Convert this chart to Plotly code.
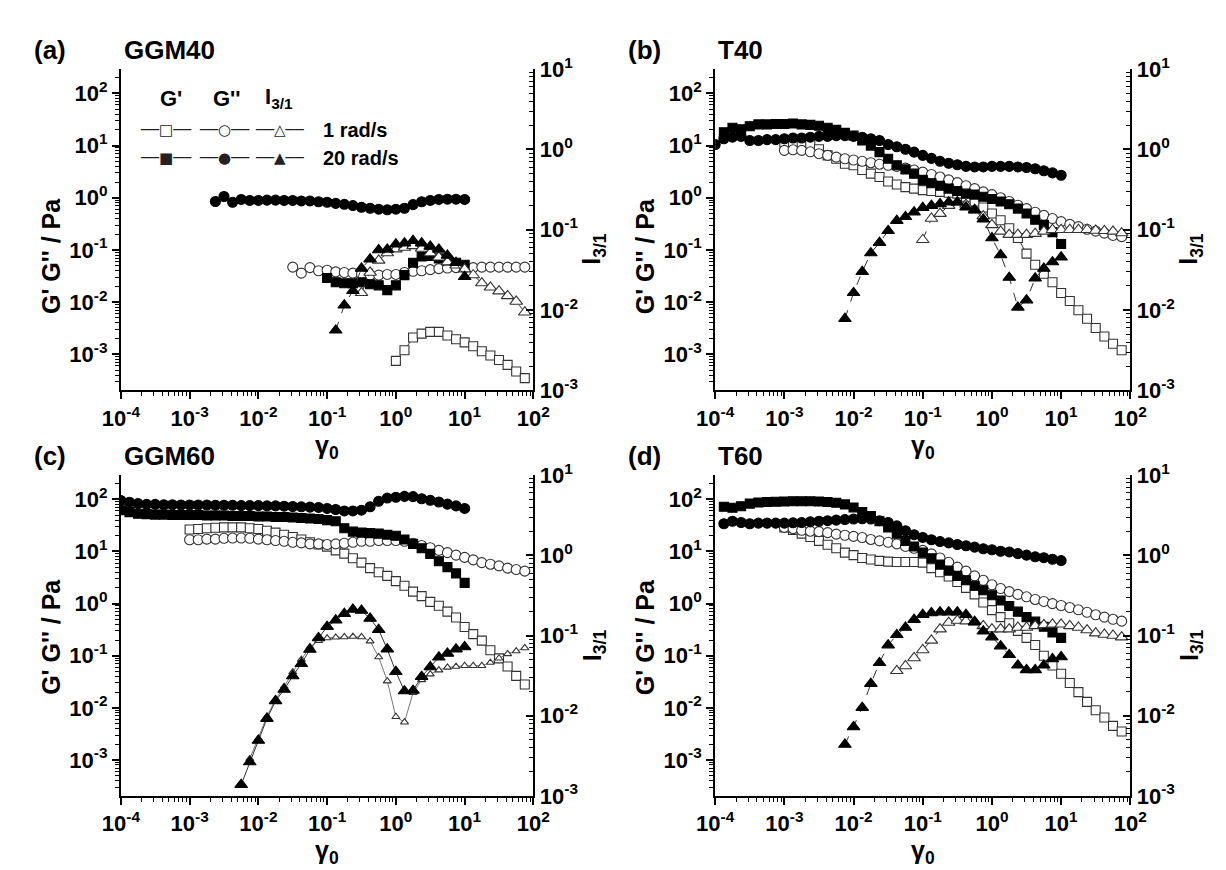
import plotly.graph_objects as go

W, H = 1226, 870
FONT = "Liberation Sans, Arial, sans-serif"

# strain amplitude grid of the sweeps (8 points per decade), index 0 = 1e-4
STRAIN = [
    1.000e-4, 1.334e-4, 1.778e-4, 2.371e-4, 3.162e-4, 4.217e-4, 5.623e-4, 7.499e-4,
    1.000e-3, 1.334e-3, 1.778e-3, 2.371e-3, 3.162e-3, 4.217e-3, 5.623e-3, 7.499e-3,
    1.000e-2, 1.334e-2, 1.778e-2, 2.371e-2, 3.162e-2, 4.217e-2, 5.623e-2, 7.499e-2,
    1.000e-1, 1.334e-1, 1.778e-1, 2.371e-1, 3.162e-1, 4.217e-1, 5.623e-1, 7.499e-1,
    1.000, 1.334, 1.778, 2.371, 3.162, 4.217, 5.623, 7.499,
    10.00, 13.34, 17.78, 23.71, 31.62, 42.17, 56.23, 74.99,
]

# ---- (a) GGM40 ----  (start index in STRAIN, values)
a_gp1_start = 32
a_gp1 = [7.5e-4, 1.2e-3, 2.1e-3, 2.5e-3, 2.7e-3, 2.7e-3, 2.3e-3, 1.95e-3, 1.7e-3, 1.43e-3,
         1.15e-3, 9.5e-4, 7.8e-4, 6.3e-4, 4.7e-4, 3.5e-4]
a_gpp1_start = 20
a_gpp1 = [0.047, 0.036, 0.046, 0.040, 0.041, 0.038, 0.037, 0.036, 0.034, 0.033, 0.033, 0.034,
          0.034, 0.037, 0.039, 0.040, 0.042, 0.044, 0.045, 0.046, 0.046, 0.046, 0.047, 0.047,
          0.047, 0.047, 0.047, 0.047]
a_i1_start = 28
a_i1 = [0.0164, 0.0294, 0.0415, 0.0513, 0.0574, 0.060, 0.063, 0.0585, 0.0513, 0.0455, 0.0396,
        0.0361, 0.0323, 0.0273, 0.0217, 0.0192, 0.0172, 0.0150, 0.0128, 0.0094]
a_gp20_start = 24
a_gp20 = [0.029, 0.024, 0.023, 0.023, 0.024, 0.022, 0.021, 0.017, 0.021, 0.033, 0.057, 0.075,
          0.077, 0.069, 0.063, 0.057, 0.052]
a_gpp20_start = 11
a_gpp20 = [0.85, 1.06, 0.82, 0.93, 0.89, 0.89, 0.90, 0.90, 0.89, 0.89, 0.87, 0.87, 0.84, 0.82,
           0.78, 0.75, 0.71, 0.66, 0.63, 0.605, 0.59, 0.605, 0.63, 0.74, 0.84, 0.89, 0.93, 0.94,
           0.94, 0.93]
a_i20_start = 25
a_i20 = [0.0056, 0.0115, 0.0174, 0.033, 0.043, 0.056, 0.057, 0.066, 0.068, 0.073, 0.068, 0.062,
         0.057, 0.048, 0.039, 0.026]

# ---- (b) T40 ----
b_gp1_start = 8
b_gp1 = [11.5, 11.5, 11.5, 10.7, 8.5, 6.5, 5.6, 4.5, 4.2, 3.4, 2.9, 2.5, 2.05, 1.8, 1.6, 1.5,
         1.4, 1.35, 1.3, 1.25, 1.2, 1.05, 0.85, 0.65, 0.5, 0.37, 0.26, 0.17, 0.085, 0.052,
         0.035, 0.024, 0.015, 0.0105, 0.007, 0.0048, 0.0032, 0.0022, 0.0016, 0.0012]
b_gpp1_start = 8
b_gpp1 = [8.1, 8.3, 8.1, 7.6, 7.0, 6.5, 6.0, 5.6, 5.3, 5.0, 4.7, 4.4, 4.2, 4.0, 3.7, 3.4, 3.1,
          2.8, 2.5, 2.2, 1.95, 1.7, 1.5, 1.3, 1.15, 1.0, 0.85, 0.72, 0.62, 0.53, 0.46, 0.40,
          0.35, 0.31, 0.28, 0.25, 0.23, 0.21, 0.19, 0.18]
b_i1_start = 24
b_i1 = [0.075, 0.138, 0.159, 0.200, 0.220, 0.206, 0.174, 0.148, 0.115, 0.0955, 0.087, 0.087,
        0.087, 0.0895, 0.0955, 0.100, 0.100, 0.100, 0.100, 0.100, 0.098, 0.097, 0.0955, 0.091]
b_gp20_start = 1
b_gp20 = [18, 22, 20.5, 23.5, 25.5, 25.5, 26, 26, 26.5, 25.5, 25, 24, 22, 20, 17.5, 15.5, 12.5,
          10, 7.5, 5.6, 4.2, 3.5, 2.9, 2.2, 1.9, 1.7, 1.5, 1.35, 1.2, 1.15, 1.05, 0.95, 0.85,
          0.75, 0.62, 0.5, 0.38, 0.3, 0.22, 0.13]
b_gpp20_start = 0
b_gpp20 = [10.5, 13.5, 14.5, 15, 12.5, 12.5, 13, 13, 13.5, 14, 14, 14.5, 15, 15, 15.5, 15.5, 15,
           14.5, 13.5, 12.5, 10.5, 9.5, 8.5, 7.5, 6.5, 5.7, 5.0, 4.6, 4.3, 4.0, 3.9, 3.9, 4.0,
           4.0, 4.0, 3.9, 3.8, 3.6, 3.3, 3.0, 2.7]
b_i20_start = 15
b_i20 = [0.0078, 0.0164, 0.030, 0.0513, 0.069, 0.097, 0.130, 0.145, 0.166, 0.188, 0.200, 0.210,
         0.220, 0.220, 0.191, 0.178, 0.135, 0.079, 0.0485, 0.0254, 0.0108, 0.0133, 0.0249,
         0.0329, 0.0396, 0.0455]

# ---- (c) GGM60 ----
c_gp1_start = 8
c_gp1 = [26.5, 27, 28, 28.5, 29, 29, 29, 28, 27, 25, 23, 21, 19, 17, 15, 13.6, 12.4, 10.5, 9.1,
         7.4, 6.1, 4.8, 4.0, 3.4, 2.7, 2.2, 1.7, 1.39, 1.08, 0.91, 0.70, 0.54, 0.355, 0.26,
         0.195, 0.127, 0.089, 0.062, 0.041, 0.028]
c_gpp1_start = 8
c_gpp1 = [16.8, 16.8, 17.3, 17.3, 17.9, 18.1, 18.1, 17.9, 17.3, 16.8, 16.2, 15.7, 15.0, 14.6,
          14.0, 14.0, 13.6, 14.0, 14.4, 15.0, 15.7, 15.7, 16.2, 16.2, 16.2, 15.7, 14.4, 13.0,
          11.8, 10.5, 9.5, 8.5, 7.7, 6.9, 6.1, 5.7, 5.3, 4.8, 4.5, 4.2]
c_i1_start = 15
c_i1 = [0.0029, 0.0052, 0.0098, 0.016, 0.023, 0.035, 0.050, 0.072, 0.086, 0.093, 0.095, 0.096,
        0.097, 0.096, 0.085, 0.054, 0.027, 0.0097, 0.0083, 0.0193, 0.028, 0.033, 0.037, 0.040,
        0.041, 0.042, 0.042, 0.042, 0.046, 0.052, 0.059, 0.064, 0.070]
c_gp20_start = 0
c_gp20 = [62, 57, 53, 52, 51, 51, 50, 50, 50, 50, 49, 49, 49, 48, 48, 48, 47, 47, 46, 46, 45, 44,
          43, 42, 40, 38, 28, 24, 23, 22.5, 22, 21, 20, 17, 14, 11.5, 9, 6.5, 5, 3.8, 2.5]
c_gpp20_start = 0
c_gpp20 = [95, 88, 83, 80, 80, 79, 79, 78, 78, 78, 78, 77, 77, 77, 76, 76, 76, 75, 75, 74, 73, 72,
           71, 70, 67, 64, 60, 60, 62, 72, 92, 106, 110, 114, 113, 103, 96, 89, 81, 75, 67]
c_i20_start = 14
c_i20 = [0.00138, 0.00264, 0.0049, 0.0092, 0.0153, 0.0212, 0.0313, 0.0445, 0.0668, 0.0933,
         0.129, 0.155, 0.187, 0.211, 0.205, 0.163, 0.118, 0.0675, 0.0353, 0.0203, 0.0206,
         0.0307, 0.0405, 0.0536, 0.0598, 0.0675, 0.072]

# ---- (d) T60 ----
d_gp1_start = 8
d_gp1 = [29, 26, 22, 19, 16, 13.5, 11.5, 9.5, 8.5, 7.5, 7, 6.6, 6.4, 6.3, 6.3, 6.3, 6.1, 4.8, 4.0,
         3.3, 2.6, 2.0, 1.5, 1.05, 0.75, 0.55, 0.42, 0.3, 0.22, 0.16, 0.10, 0.065, 0.045, 0.03,
         0.02, 0.013, 0.009, 0.0065, 0.0045, 0.0035]
d_gpp1_start = 8
d_gpp1 = [29, 27.5, 25.5, 24.5, 24, 23, 21.5, 20.5, 19.5, 18.5, 17, 16, 15, 14, 12.5, 11.5, 10.5,
          9, 7.5, 6.2, 5.0, 4.2, 3.4, 2.8, 2.3, 1.95, 1.7, 1.5, 1.35, 1.2, 1.1, 1.0, 0.92, 0.84,
          0.76, 0.68, 0.61, 0.55, 0.5, 0.46]
d_i1_start = 21
d_i1 = [0.0363, 0.0417, 0.0525, 0.066, 0.087, 0.120, 0.145, 0.154, 0.151, 0.145, 0.132, 0.120,
        0.120, 0.120, 0.126, 0.126, 0.132, 0.136, 0.138, 0.138, 0.132, 0.126, 0.117, 0.107,
        0.103, 0.100, 0.0955]
d_gp20_start = 1
d_gp20 = [72, 69, 74, 83, 87, 89, 90, 91, 92, 92, 92, 91, 89, 86, 80, 70, 57, 48, 38, 29, 22, 16,
          12.5, 9.5, 7.4, 5.6, 4.3, 3.4, 2.8, 2.2, 1.8, 1.45, 1.15, 0.9, 0.7, 0.55, 0.45, 0.36,
          0.28, 0.22]
d_gpp20_start = 1
d_gpp20 = [34, 38, 36, 34, 35, 35, 35, 35, 35.5, 36, 37, 38, 39, 40, 41, 42, 42.5, 42, 39, 36, 31,
           25, 21, 18.6, 16.8, 15.5, 14.6, 13.6, 12.9, 12.1, 11.3, 10.8, 10.1, 9.8, 9.1, 8.5,
           7.9, 7.6, 7.1, 6.7]
d_i20_start = 15
d_i20 = [0.00437, 0.00724, 0.0126, 0.0251, 0.0457, 0.0759, 0.102, 0.126, 0.158, 0.182, 0.191,
         0.196, 0.196, 0.196, 0.182, 0.149, 0.113, 0.0955, 0.0738, 0.0575, 0.0425, 0.0373,
         0.0373, 0.0425, 0.051, 0.054]

# tick labels
X_TICKS = [1e-4, 1e-3, 1e-2, 1e-1, 1, 10, 100]
X_LABELS = ["10<sup>-4</sup>", "10<sup>-3</sup>", "10<sup>-2</sup>", "10<sup>-1</sup>",
            "10<sup>0</sup>", "10<sup>1</sup>", "10<sup>2</sup>"]
G_TICKS = [1e-3, 1e-2, 1e-1, 1, 10, 100]
G_LABELS = ["10<sup>-3</sup>", "10<sup>-2</sup>", "10<sup>-1</sup>", "10<sup>0</sup>",
            "10<sup>1</sup>", "10<sup>2</sup>"]
I_TICKS = [1e-3, 1e-2, 1e-1, 1, 10]
I_LABELS = ["10<sup>-3</sup>", "10<sup>-2</sup>", "10<sup>-1</sup>", "10<sup>0</sup>",
            "10<sup>1</sup>"]

PANELS = [
    ("(a)", "GGM40", [(a_gp1_start, a_gp1, "gp", 1), (a_gpp1_start, a_gpp1, "gpp", 1),
                      (a_i1_start, a_i1, "i", 1), (a_gp20_start, a_gp20, "gp", 20),
                      (a_gpp20_start, a_gpp20, "gpp", 20), (a_i20_start, a_i20, "i", 20)]),
    ("(b)", "T40", [(b_gp1_start, b_gp1, "gp", 1), (b_gpp1_start, b_gpp1, "gpp", 1),
                    (b_i1_start, b_i1, "i", 1), (b_gp20_start, b_gp20, "gp", 20),
                    (b_gpp20_start, b_gpp20, "gpp", 20), (b_i20_start, b_i20, "i", 20)]),
    ("(c)", "GGM60", [(c_gp1_start, c_gp1, "gp", 1), (c_gpp1_start, c_gpp1, "gpp", 1),
                      (c_i1_start, c_i1, "i", 1), (c_gp20_start, c_gp20, "gp", 20),
                      (c_gpp20_start, c_gpp20, "gpp", 20), (c_i20_start, c_i20, "i", 20)]),
    ("(d)", "T60", [(d_gp1_start, d_gp1, "gp", 1), (d_gpp1_start, d_gpp1, "gpp", 1),
                    (d_i1_start, d_i1, "i", 1), (d_gp20_start, d_gp20, "gp", 20),
                    (d_gpp20_start, d_gpp20, "gpp", 20), (d_i20_start, d_i20, "i", 20)]),
]

SYMBOLS = {"gp": "square", "gpp": "circle", "i": "triangle-up"}
SIZES = {"gp": 9, "gpp": 10, "i": 11}

# frame positions in pixels
COLS = [(96.7, 521.7), (709.0, 1136.7)]
ROWS = [(46.7, 379.0), (466.7, 798.5)]


def px(x):
    return x / W


def py(y):
    return 1 - y / H


def minors(lo, hi):
    return [m * 10.0 ** e for e in range(lo, hi) for m in range(2, 10)]


def axname(letter, n):
    return letter + ("axis" if n == 1 else "axis%d" % n)


def ref(letter, n):
    return letter if n == 1 else "%s%d" % (letter, n)


tickfont = dict(family=FONT, size=22, color="black", weight="bold")
base = dict(type="log", showgrid=False, zeroline=False, showline=True, linecolor="black",
            linewidth=2, tickcolor="black", tickwidth=1.5, ticklen=7, tickfont=tickfont,
            tickmode="array")

fig = go.Figure()
layout = {}

for k, (tag, name, series) in enumerate(PANELS):
    c, r = k % 2, k // 2
    x0, x1 = COLS[c]
    y0, y1 = ROWS[r]
    n = 2 * k + 1
    xb, xt, yl, yr = ref("x", n), ref("x", n + 1), ref("y", n), ref("y", n + 1)

    layout[axname("x", n)] = dict(base, domain=[px(x0), px(x1)], range=[-4, 2], anchor=yl,
                                  ticks="outside", tickvals=X_TICKS, ticktext=X_LABELS,
                                  minor=dict(tickmode="array", tickvals=minors(-4, 2),
                                             ticks="outside", ticklen=4, tickwidth=1,
                                             tickcolor="black"))
    layout[axname("x", n + 1)] = dict(base, range=[-4, 2], overlaying=xb, anchor=yl, side="top",
                                      ticks="inside", tickvals=X_TICKS, showticklabels=False,
                                      minor=dict(tickmode="array", tickvals=minors(-4, 2),
                                                 ticks="inside", ticklen=4, tickwidth=1,
                                                 tickcolor="black"))
    layout[axname("y", n)] = dict(base, domain=[py(y1), py(y0)], range=[-3.69, 2.465],
                                  anchor=xb, ticks="outside", tickvals=G_TICKS,
                                  ticktext=G_LABELS,
                                  minor=dict(tickmode="array", tickvals=minors(-4, 3),
                                             ticks="outside", ticklen=4, tickwidth=1,
                                             tickcolor="black"))
    layout[axname("y", n + 1)] = dict(base, range=[-3, 1], overlaying=yl, anchor=xb,
                                      side="right", ticks="inside", tickvals=I_TICKS,
                                      ticktext=I_LABELS,
                                      minor=dict(tickmode="array", tickvals=minors(-3, 1),
                                                 ticks="inside", ticklen=4, tickwidth=1,
                                                 tickcolor="black"))

    for start, vals, kind, freq in series:
        filled = freq == 20
        small = (k == 2 and kind == "i" and not filled)
        fig.add_trace(go.Scatter(
            x=STRAIN[start:start + len(vals)], y=vals,
            xaxis=xb, yaxis=yr if kind == "i" else yl,
            mode="lines+markers", showlegend=False,
            line=dict(color="#777" if small else "#333", width=1,
                      dash="dash" if (kind == "i" and k != 2) else "solid"),
            marker=dict(symbol=SYMBOLS[kind], size=7 if small else SIZES[kind],
                        color="black" if filled else "white",
                        line=dict(color="black" if filled else "#333", width=1.1)),
        ))

    # panel texts
    ymid_title = 27 if r == 0 else 447
    fig.add_annotation(text=tag, x=px(5 + 612 * c), y=py(ymid_title), xanchor="left",
                       yanchor="middle", font=dict(family=FONT, size=26, weight="bold"))
    fig.add_annotation(text=name, x=px(x0 + 1), y=py(ymid_title), xanchor="left",
                       yanchor="middle", font=dict(family=FONT, size=26, weight="bold"))
    fig.add_annotation(text="G' G'' / Pa", textangle=-90, x=px(x0 - 72),
                       y=py(240 if r == 0 else 634), xanchor="center", yanchor="middle",
                       font=dict(family=FONT, size=25, weight="bold"))
    fig.add_annotation(text="I<sub>3/1</sub>", textangle=-90, x=px(x1 + 62),
                       y=py(233 if r == 0 else 643), xanchor="center", yanchor="middle",
                       font=dict(family=FONT, size=25, weight="bold"))
    fig.add_annotation(text="γ<sub>0</sub>", x=px((x0 + x1) / 2),
                       y=py(438 if r == 0 else 857), xanchor="center", yanchor="middle",
                       font=dict(family=FONT, size=25, weight="bold"))

# legend block inside panel (a)
for txt, xc in [("G'", 148), ("G''", 206), ("I<sub>3/1</sub>", 260)]:
    fig.add_annotation(text=txt, x=px(xc), y=py(77), xanchor="center", yanchor="middle",
                       font=dict(family=FONT, size=22, weight="bold"))
for glyphs, yc, label in [("□○△", 110, "1 rad/s"), ("■●▲", 139, "20 rad/s")]:
    for g, xc in zip(glyphs, [143, 203, 261]):
        fig.add_annotation(text="──" + g + "──", x=px(xc), y=py(yc), xanchor="center",
                           yanchor="middle", font=dict(family="DejaVu Sans", size=15, color="#222"))
    fig.add_annotation(text=label, x=px(303), y=py(yc), xanchor="left", yanchor="middle",
                       font=dict(family=FONT, size=20, weight="bold"))

for a in fig.layout.annotations:
    a.showarrow = False
    a.xref = "paper"
    a.yref = "paper"
    a.font.color = a.font.color or "black"

fig.update_layout(width=W, height=H, margin=dict(l=0, r=0, t=0, b=0),
                  paper_bgcolor="white", plot_bgcolor="white", **layout)

fig.write_html("out.html")
